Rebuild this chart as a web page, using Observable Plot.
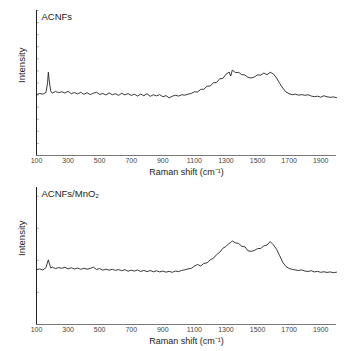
<!DOCTYPE html>
<html>
<head>
<meta charset="utf-8">
<script src="https://cdn.jsdelivr.net/npm/d3@7"></script>
<script src="https://cdn.jsdelivr.net/npm/@observablehq/plot@0.6"></script>
<style>
  body { margin: 0; background: #fff; }
  #c svg { display: block; overflow: visible; }
</style>
</head>
<body>
<div id="c"></div>
<script>
// Raman shift positions (cm-1)
const shift = [100,120,140,160,170,175,180,190,200,220,240,260,280,300,320,340,360,380,400,420,440,460,480,500,520,540,560,580,600,620,640,660,680,700,720,740,760,780,800,820,840,860,880,900,920,940,960,980,1000,1020,1040,1060,1080,1100,1120,1140,1160,1180,1200,1220,1240,1260,1280,1300,1320,1330,1340,1360,1380,1400,1420,1440,1460,1480,1500,1520,1540,1560,1580,1600,1620,1640,1660,1680,1700,1720,1740,1760,1780,1800,1820,1840,1860,1880,1900,1920,1940,1960,1980,2000];

// Intensity (arb. units) — ACNFs
const acnfs = [42.0,42.8,42.3,43.5,50.0,57.4,52.0,44.5,43.0,44.2,43.3,44.0,43.1,44.3,42.6,43.4,42.5,43.6,42.2,43.3,42.0,42.9,43.6,42.1,42.8,41.7,43.2,41.9,42.6,41.5,42.9,41.8,42.7,41.4,42.3,41.0,42.4,41.2,42.6,40.8,41.9,41.1,42.0,40.5,41.3,39.8,40.9,41.5,41.0,41.9,41.6,42.3,42.8,43.9,43.8,45.6,45.7,47.8,47.9,50.2,50.3,52.9,53.1,56.0,57.6,54.8,58.9,57.2,57.3,55.8,55.5,53.8,53.5,54.2,55.6,55.4,56.9,55.7,57.4,56.3,53.5,49.8,46.5,43.8,42.6,41.9,42.3,41.6,42.0,41.5,41.9,41.0,40.6,40.9,40.2,41.2,40.5,40.1,40.4,39.9];

// Intensity (arb. units) — ACNFs/MnO2
const acnfsMnO2 = [40.0,40.6,39.8,41.5,45.5,47.2,45.0,41.3,41.9,40.8,41.6,41.0,41.8,40.6,41.4,40.5,41.2,40.3,41.0,40.4,40.9,41.9,40.2,40.8,39.7,40.4,39.6,40.3,39.5,40.1,39.3,40.0,38.9,39.6,39.0,39.8,38.7,39.5,38.6,39.4,38.5,39.2,38.4,39.0,38.2,38.8,38.1,39.0,38.6,39.5,39.9,40.6,41.0,42.6,43.8,42.7,44.6,45.0,47.2,48.3,50.9,52.7,55.6,57.0,59.3,59.8,61.0,59.6,59.2,57.1,56.7,53.7,53.4,54.0,55.4,55.5,57.4,58.0,60.5,58.2,55.0,50.2,45.3,42.3,40.9,40.2,39.8,39.4,39.9,39.0,38.7,39.3,38.4,38.8,38.1,38.5,38.0,38.4,37.8,38.2];

const xTicks = [100,300,500,700,900,1100,1300,1500,1700,1900];
const panelLabels = ["ACNFs", "ACNFs/MnO\u2082"];
const xTitle = "Raman shift (cm\u207B\u00B9)";
const yTitle = "Intensity";
const topYTicks = d3.range(0, 13).map(i => i * 100 / 12);
const botYTicks = d3.range(0, 5).map(i => i * 23.4);

function panel(values, label, height, marginTop, marginBottom, yTicks, titleDy) {
  const data = shift.map((s, i) => ({x: s, y: values[i]}));
  return Plot.plot({
    width: 354,
    height,
    marginLeft: 36,
    marginRight: 18,
    marginTop,
    marginBottom,
    x: {domain: [100, 2000]},
    y: {domain: [0, 100]},
    style: {fontFamily: "'Liberation Sans', Arial, sans-serif", fontSize: "7px", color: "#444", background: "#fff"},
    marks: [
      Plot.axisY({ticks: yTicks, tickSize: -3, tickFormat: () => "", label: null, stroke: "#999", strokeWidth: 0.7}),
      Plot.axisX({ticks: xTicks, tickSize: 0, tickPadding: 3, tickFormat: d => String(d), label: null, fill: "#444"}),
      Plot.ruleY([0], {stroke: "#555", strokeWidth: 0.8}),
      Plot.ruleX([100], {stroke: "#222", strokeWidth: 1}),
      Plot.line(data, {x: "x", y: "y", stroke: "#222", strokeWidth: 0.9}),
      Plot.text([label], {frameAnchor: "top-left", dx: 5, dy: 3, lineAnchor: "top", textAnchor: "start", fontSize: 9.5, fill: "#222"}),
      Plot.text([yTitle], {frameAnchor: "left", dx: -15, rotate: -90, fontSize: 9.5, fill: "#222"}),
      Plot.text([xTitle], {frameAnchor: "bottom", dy: titleDy, fontSize: 9, fill: "#222"})
    ]
  });
}

const c = document.getElementById("c");
c.appendChild(panel(acnfs, panelLabels[0], 180, 10, 25, topYTicks, 19));
c.appendChild(panel(acnfsMnO2, panelLabels[1], 171, 7, 27, botYTicks, 19));
</script>
</body>
</html>
